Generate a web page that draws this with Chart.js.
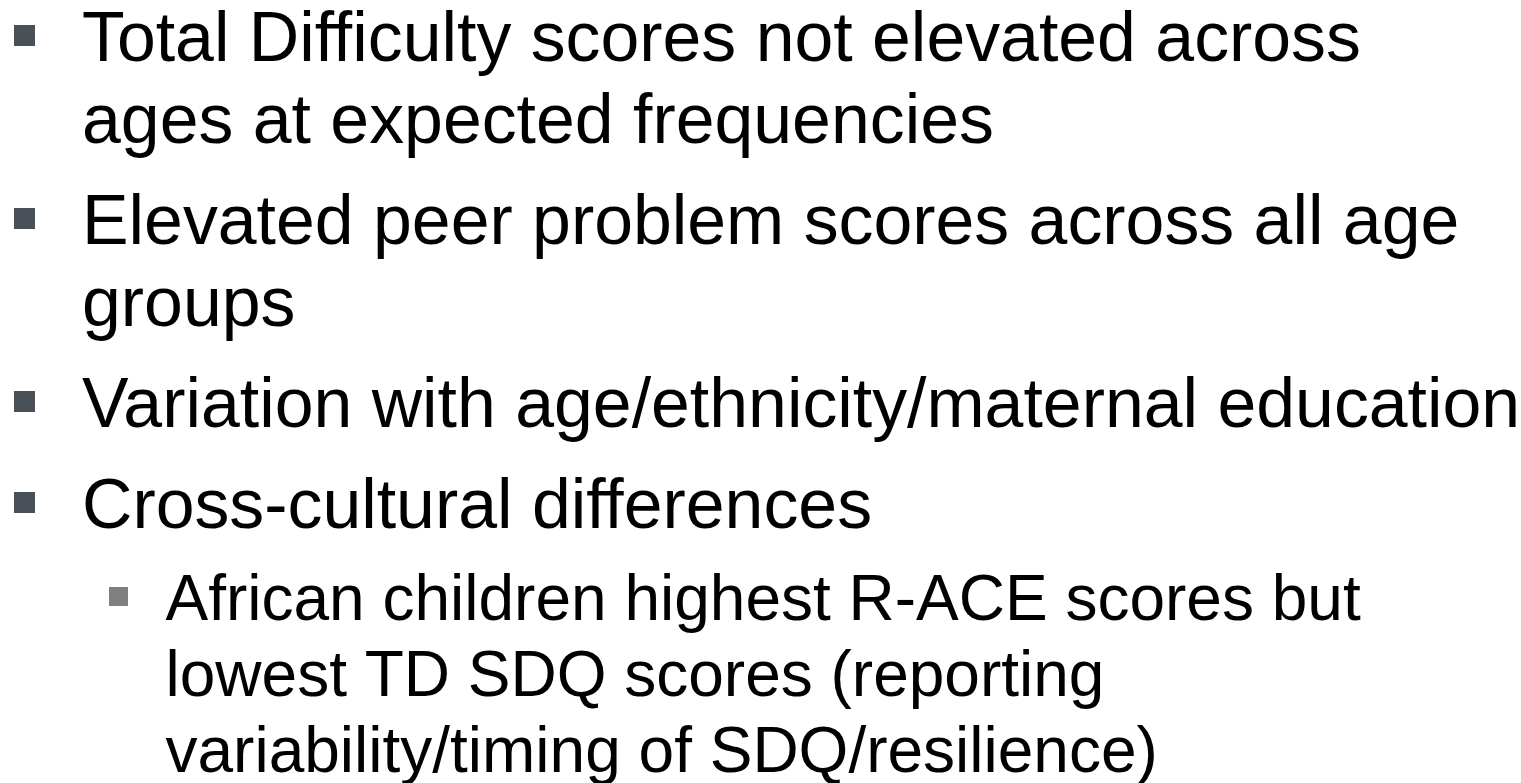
<!DOCTYPE html>
<html>
<head>
<meta charset="utf-8">
<script src="https://cdn.jsdelivr.net/npm/chart.js@4/dist/chart.umd.min.js"></script>
<style>
  html, body { margin: 0; padding: 0; background: #ffffff; overflow: hidden; }
  #wrap { position: relative; width: 1521px; height: 783px; }
</style>
</head>
<body>
<div id="wrap"><canvas id="c"></canvas></div>
<script>
// Slide content: each bullet has a level and its wrapped lines
const bulletTexts = [
  ["Total Difficulty scores not elevated across", "ages at expected frequencies"],
  ["Elevated peer problem scores across all age", "groups"],
  ["Variation with age/ethnicity/maternal education"],
  ["Cross-cultural differences"],
  ["African children highest R-ACE scores but", "lowest TD SDQ scores (reporting", "variability/timing of SDQ/resilience)"]
];
const bulletLevels = [0, 0, 0, 0, 1];

// Layout styles per level
const levelStyle = [
  { font: 69.8, lineH: 82, gapBefore: 19, textX: 82, bulletX: 24.5, bulletOff: 25.5, bulletR: 14.85, color: "rgb(74,80,88)" },
  { font: 64, lineH: 76, gapBefore: 16, textX: 165.5, bulletX: 118.5, bulletOff: 23.5, bulletR: 13.4, color: "rgb(128,128,128)" }
];
const firstBaseline = 61;

// Build baselines
const bullets = [];
const textLines = [];
let y = firstBaseline;
bulletTexts.forEach((lines, i) => {
  const st = levelStyle[bulletLevels[i]];
  if (i > 0) y += st.gapBefore;
  bullets.push({ x: st.bulletX, y: y - st.bulletOff, r: st.bulletR, color: st.color });
  lines.forEach((t, j) => {
    textLines.push({ text: t, x: st.textX, y: y, size: st.font });
    if (j < lines.length - 1) y += st.lineH;
  });
  const nextSt = i + 1 < bulletTexts.length ? levelStyle[bulletLevels[i + 1]] : st;
  y += nextSt.lineH;
});

const textPlugin = {
  id: 'slideText',
  afterDatasetsDraw(chart) {
    const { ctx, scales } = chart;
    ctx.save();
    ctx.fillStyle = '#000000';
    ctx.textBaseline = 'alphabetic';
    ctx.textAlign = 'left';
    textLines.forEach(l => {
      ctx.font = l.size + 'px "Liberation Sans", Arial, sans-serif';
      ctx.fillText(l.text, scales.x.getPixelForValue(l.x), scales.y.getPixelForValue(l.y));
    });
    ctx.restore();
  }
};

new Chart(document.getElementById('c'), {
  type: 'scatter',
  data: {
    datasets: [{
      data: bullets.map(b => ({ x: b.x, y: b.y })),
      pointStyle: 'rect',
      pointRadius: bullets.map(b => b.r),
      pointHoverRadius: bullets.map(b => b.r),
      pointBackgroundColor: bullets.map(b => b.color),
      pointBorderWidth: 0,
      borderWidth: 0,
      clip: false
    }]
  },
  options: {
    responsive: true,
    maintainAspectRatio: false,
    animation: false,
    events: [],
    layout: { padding: 0, autoPadding: false },
    plugins: { legend: { display: false }, tooltip: { enabled: false } },
    scales: {
      x: { type: 'linear', min: 0, max: 1521, display: false },
      y: { type: 'linear', min: 0, max: 783, reverse: true, display: false }
    }
  },
  plugins: [textPlugin]
});
</script>
</body>
</html>
